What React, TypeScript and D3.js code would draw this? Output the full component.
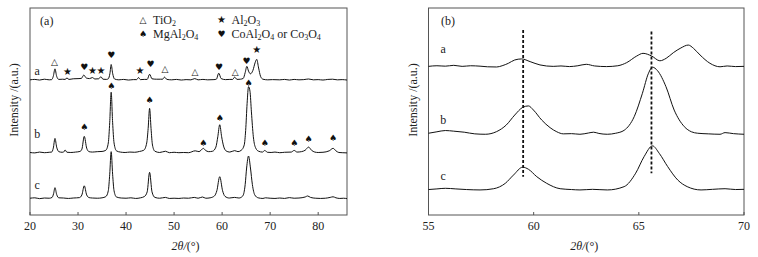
import React, { useRef, useEffect } from "react";
import * as d3 from "d3";

// ---- panel (a): wide scan, [2theta, intensity above own baseline]
const scanA_a = [
  [20, 0.3], [21, 0.5], [22, 0.2], [23, 0.6], [24, 0.3],
  [24.5, 0.4], [24.85, 2], [25.2, 5.6], [25.55, 2], [26, 0.5], [26.8, 0.6],
  [27.3, 0.5], [27.7, 1.2], [28.1, 0.5], [29, 0.8], [30.2, 0.9],
  [30.7, 1], [31.2, 2.6], [31.7, 1.2], [32.4, 0.9], [33, 1.4], [33.5, 0.7],
  [34.3, 0.8], [34.75, 1.8], [35.2, 0.6], [35.9, 0.5],
  [36.3, 0.8], [36.65, 3.5], [36.9, 7.7], [37.2, 3.5], [37.6, 0.7],
  [38.5, 0.3], [39.5, 0.5], [40.5, 0.2], [41.5, 0.4],
  [42.2, 0.4], [42.6, 1.4], [43, 0.4], [43.8, 0.5],
  [44.4, 0.5], [44.9, 3], [45.4, 0.8], [46.3, 0.6], [47.2, 0.6],
  [47.6, 0.6], [48, 1.6], [48.5, 0.5], [49.5, 0.3], [50.5, 0.5], [51.5, 0.2],
  [52.5, 0.4], [53.5, 0.3], [54.3, 0.9], [55, 0.3], [56, 0.5], [57, 0.3], [58.3, 0.4],
  [58.8, 0.6], [59.3, 3.5], [59.8, 0.9], [60.7, 0.4], [61.6, 0.5],
  [62.2, 0.5], [62.6, 1.6], [63.1, 0.5], [63.8, 0.6],
  [64.4, 1], [64.8, 3.8], [65.15, 6.8], [65.5, 4.5], [65.9, 3.2], [66.4, 4.8],
  [66.9, 8.8], [67.2, 10.2], [67.6, 6], [68, 2], [68.5, 0.6],
  [69.5, 0.3], [70.5, 0.4], [72, 0.3], [73, 0.5], [74, 0.2], [75, 0.5], [76, 0.3],
  [77, 0.4], [78, 0.7], [79, 0.3], [80, 0.4], [81, 0.2], [82, 0.5], [83, 0.6],
  [84, 0.3], [85, 0.4], [86, 0.2],
];
const scanA_b = [
  [20, 0.4], [21, 0.2], [22, 0.6], [23, 0.3], [24, 0.5],
  [24.5, 0.6], [24.85, 2.5], [25.2, 7.2], [25.55, 3], [26, 0.8], [26.7, 0.5],
  [27, 0.6], [27.3, 1.6], [27.7, 0.5], [28.5, 0.4], [29.5, 0.6], [30.4, 0.9],
  [30.8, 2], [31.3, 8.2], [31.8, 2.5], [32.3, 0.8], [33, 0.6], [34, 0.8], [35, 0.9], [35.8, 1.5],
  [36.3, 5], [36.6, 15], [36.9, 29.5], [37.2, 15], [37.5, 5], [38, 1.2],
  [38.8, 0.6], [39.8, 0.4], [40.8, 0.6], [41.8, 0.5], [42.8, 0.9], [43.7, 1.5],
  [44.3, 5], [44.6, 12], [44.9, 21.7], [45.2, 12], [45.5, 4], [46, 1],
  [47, 0.4], [48.2, 1], [49, 0.3], [50, 0.5], [51, 0.3], [52, 0.4], [53, 0.3],
  [54.4, 1.2], [55.2, 0.8], [55.6, 1.5], [56.1, 2.4], [56.5, 1.5], [57.2, 0.8],
  [58, 1], [58.7, 3], [59.1, 8], [59.5, 13.8], [59.9, 8], [60.3, 3.5], [60.8, 1.2],
  [61.6, 0.6], [62.6, 1.3], [63.3, 0.8], [64, 1.5], [64.6, 4],
  [64.9, 11], [65.2, 24], [65.5, 32.2], [65.8, 30], [66.1, 20], [66.5, 8], [67, 2.5], [67.6, 1],
  [68.4, 0.6], [68.9, 1.4], [69.4, 0.5], [70.2, 0.4], [71, 0.6], [72, 0.3], [73, 0.5],
  [74.4, 0.6], [75, 1.4], [75.6, 0.6], [76.5, 0.8], [77.3, 1.5], [78, 3], [78.6, 1.5],
  [79.3, 0.6], [80, 0.4], [81, 0.5], [82.3, 1.2], [83.1, 2.4], [83.7, 1.2], [84.3, 0.4],
  [85, 0.3], [86, 0.2],
];
const scanA_c = [
  [20, 0.4], [21, 0.6], [22, 0.2], [23, 0.5], [24, 0.4],
  [24.6, 0.8], [24.9, 2.5], [25.2, 5.5], [25.55, 2.2], [26, 0.6],
  [27, 0.5], [28, 0.3], [29, 0.5], [30.3, 0.7],
  [30.8, 2], [31.3, 6.4], [31.8, 2], [32.3, 0.7], [33, 0.5], [34, 0.4], [35, 0.6], [35.8, 1.2],
  [36.3, 4], [36.6, 12], [36.9, 22.9], [37.2, 12], [37.5, 4], [38, 1],
  [39, 0.5], [40, 0.4], [41, 0.6], [42, 0.3], [43, 0.6], [43.8, 1.2],
  [44.4, 3.5], [44.9, 12.9], [45.4, 3.5], [46, 0.8],
  [47, 0.4], [48.2, 0.8], [49, 0.3], [50, 0.4], [51, 0.3], [52, 0.5], [53, 0.4], [54.2, 0.8], [55, 0.4],
  [55.9, 1], [56.6, 0.4], [57.5, 0.6], [58.4, 1.5],
  [58.9, 4], [59.5, 10.8], [60.1, 4], [60.6, 1.3], [61.5, 0.5], [62.6, 0.8], [63.5, 0.5], [64.3, 1.5],
  [64.8, 7], [65.1, 15], [65.5, 20.8], [65.9, 15], [66.3, 7], [66.8, 2], [67.5, 0.6],
  [68.5, 0.3], [69, 0.6], [70, 0.4], [71, 0.3], [72, 0.5], [73, 0.3], [74, 0.7], [75, 0.4],
  [76, 0.5], [77.3, 1], [77.8, 1.5], [78.4, 0.8], [79.5, 0.4], [80.5, 0.3], [81.5, 0.4],
  [82.5, 0.8], [83.1, 1.1], [83.7, 0.6], [84.5, 0.3], [85.3, 0.4], [86, 0.2],
];
const offsetsA = [65, 29.8, 7.7];
const sampleNames = ["a", "b", "c"];
const nameLevelsA = [67.6, 37.4, 12.8];

// phase markers: [2theta, level, phase]
const marksA = [
  [25.1, 74.1, "tri"], [27.8, 69.2, "star"], [31.3, 71.6, "heart"], [33.0, 69.6, "star"],
  [34.8, 69.6, "star"], [36.9, 77.3, "heart"], [42.9, 69.7, "star"], [45.1, 72.8, "heart"],
  [48.1, 70.4, "tri"], [54.35, 69.2, "tri"], [59.35, 71.6, "heart"], [62.7, 69.2, "tri"],
  [65.1, 74.5, "heart"], [67.2, 80.0, "star"],
  [31.3, 42.4, "spade"], [36.9, 62.3, "spade"], [44.9, 55.6, "spade"], [56.1, 34.9, "spade"],
  [59.5, 46.7, "spade"], [65.5, 63.9, "spade"], [68.9, 34.6, "spade"], [75.0, 34.6, "spade"],
  [78.0, 36.7, "spade"], [83.1, 37.1, "spade"],
];
const legendPhases = ["tri", "star", "spade", "heart"];
const legendNames = ["TiO2", "Al2O3", "MgAl2O4", "CoAl2O4 or Co3O4"];
const glyphs = { tri: "\u25B3", star: "\u2605", spade: "\u2660", heart: "\u2665" };

// ---- panel (b): 55-70 detail
const scanB_a = [
  [55, 0.3], [55.4, 0.6], [55.8, 0.4], [56.2, 0.8], [56.6, 0.3], [57, 0.6], [57.45, 0.4],
  [57.8, 0.1], [58.24, 0], [58.5, 0.6], [58.8, 1.8], [59.1, 3.4], [59.43, 3.9], [59.83, 2.6],
  [60.3, 1], [60.93, 0.3], [61.3, 0.5], [61.7, 0.2], [62.1, 0.6], [62.5, 1.3], [62.9, 0.5],
  [63.47, 0.2], [64, 0.6], [64.42, 2.1], [64.9, 5.3], [65.2, 6.6], [65.61, 5.3], [66, 3],
  [66.3, 4.2], [66.64, 6.9], [67, 9.2], [67.35, 10.6], [67.6, 9], [67.91, 5.8], [68.38, 1.8],
  [68.86, 0.1], [69.2, 0.5], [69.6, 0.2], [70, 0.3],
];
const scanB_b = [
  [55, 0.5], [55.4, 1.2], [55.8, 1.8], [56.2, 1.5], [56.7, 1], [57.2, 0.2], [57.7, 0],
  [58.24, 1.3], [58.7, 4.5], [59.1, 9.3], [59.48, 13], [59.75, 13.7], [59.99, 11.7],
  [60.38, 6.9], [60.78, 3.2], [61.1, 1.2], [61.41, 0.2], [61.8, 0.3], [62.2, 0], [62.6, 0.6],
  [62.85, 1], [63.1, 0.4], [63.5, 0], [63.9, 0.5], [64.3, 1.9], [64.78, 8.5], [65.17, 19.8],
  [65.46, 29.5], [65.65, 32.4], [65.89, 30.7], [66.29, 23], [66.68, 11.7], [67.16, 3.7],
  [67.5, 1.2], [67.8, 0.5], [68.3, 0.2], [68.86, 0], [69.1, 0.8], [69.5, 0.3], [70, 0],
];
const scanB_c = [
  [55, 0.2], [55.4, 0.5], [55.8, 0.8], [56.3, 0.5], [56.8, 0.2], [57.45, 0], [58.1, 0.6],
  [58.65, 3.2], [59.04, 7.2], [59.48, 11], [59.75, 10], [60.15, 6.4], [60.62, 3.2],
  [61.26, 0.6], [61.8, 0.2], [62.2, 0], [62.8, 0.3], [63.5, 0], [64.3, 1.6], [64.85, 8.1],
  [65.25, 16.1], [65.65, 21.3], [65.97, 17.7], [66.37, 11.3], [66.85, 4.8], [67.3, 1.6],
  [67.96, 0], [68.5, 0.3], [69.1, 0.6], [69.6, 0.2], [70, 0.3],
];
const offsetsB = [71.5, 39, 12.1];
const nameLevelsB = [78.3, 44, 16.9];
// reference lines: [2theta, top level, bottom level]
const refLines = [[59.5, 89.4, 18.5], [65.6, 88.6, 20.2]];

const ticksA = [20, 30, 40, 50, 60, 70, 80];
const ticksB = [55, 60, 65, 70];

const SERIF = "'Times New Roman', 'Liberation Serif', serif";

// digits become subscripts
const addFormula = (sel, str) => {
  const parts = str.split(/(\d+)/).filter((p) => p !== "");
  let down = false;
  parts.forEach((p) => {
    if (/^\d+$/.test(p)) {
      sel.append("tspan").attr("dy", 2).attr("font-size", 8).text(p);
      down = true;
    } else {
      sel.append("tspan").attr("dy", down ? -2 : 0).text(p);
      down = false;
    }
  });
};

const drawPanel = (svg, cfg) => {
  const { left, right, top, bottom, domain, ticks, scans, offsets, nameLevels, nameAngle, title, titleAngle, yLabelX } = cfg;
  const x = d3.scaleLinear().domain(domain).range([left, right]);
  const y = d3.scaleLinear().domain([0, 100]).range([bottom, top]);
  const g = svg.append("g");

  g.append("rect")
    .attr("x", left).attr("y", top)
    .attr("width", right - left).attr("height", bottom - top)
    .attr("fill", "none").attr("stroke", "#555").attr("stroke-width", 1);

  // inward ticks on bottom axis
  g.selectAll("line.tick").data(ticks).enter().append("line")
    .attr("x1", (d) => x(d)).attr("x2", (d) => x(d))
    .attr("y1", bottom).attr("y2", bottom - 3)
    .attr("stroke", "#555");
  g.selectAll("text.tick").data(ticks).enter().append("text")
    .attr("x", (d) => x(d)).attr("y", bottom + 15)
    .attr("text-anchor", "middle")
    .attr("font-family", SERIF).attr("font-size", 12).attr("fill", "#222")
    .text((d) => d);

  const xl = g.append("text")
    .attr("x", (left + right) / 2 + (cfg.xLabelShift || 0)).attr("y", bottom + 35)
    .attr("text-anchor", "middle")
    .attr("font-family", SERIF).attr("font-size", 12).attr("fill", "#222");
  xl.append("tspan").attr("font-style", "italic").text("2\u03B8/");
  xl.append("tspan").text("(\u00B0)");

  g.append("text")
    .attr("transform", `translate(${yLabelX},100) rotate(-90)`)
    .attr("text-anchor", "middle").attr("dominant-baseline", "central")
    .attr("font-family", SERIF).attr("font-size", 12).attr("fill", "#222")
    .text("Intensity /(a.u.)");

  const line = d3.line().x((d) => x(d[0])).y((d) => y(d[1])).curve(d3.curveMonotoneX);
  scans.forEach((scan, i) => {
    g.append("path")
      .datum(scan.map((p) => [p[0], p[1] + offsets[i]]))
      .attr("d", line)
      .attr("fill", "none").attr("stroke", "#111").attr("stroke-width", 1)
      .attr("stroke-linejoin", "round");
    g.append("text")
      .attr("x", x(nameAngle)).attr("y", y(nameLevels[i]))
      .attr("text-anchor", "middle")
      .attr("font-family", SERIF).attr("font-size", 12).attr("fill", "#222")
      .text(sampleNames[i]);
  });

  g.append("text")
    .attr("x", x(titleAngle)).attr("y", y(92))
    .attr("font-family", SERIF).attr("font-size", 12).attr("fill", "#222")
    .text(title);

  return { g, x, y };
};

const App = () => {
  const ref = useRef(null);

  useEffect(() => {
    const svg = d3.select(ref.current);
    svg.selectAll("*").remove();

    const a = drawPanel(svg, {
      left: 30, right: 347, top: 8, bottom: 215, domain: [20, 86], ticks: ticksA,
      scans: [scanA_a, scanA_b, scanA_c], offsets: offsetsA, nameLevels: nameLevelsA,
      nameAngle: 21.5, title: "(a)", titleAngle: 22.1, yLabelX: 14, xLabelShift: -3,
    });

    a.g.selectAll("text.mark").data(marksA).enter().append("text")
      .attr("x", (d) => a.x(d[0])).attr("y", (d) => a.y(d[1]))
      .attr("text-anchor", "middle").attr("dominant-baseline", "central")
      .attr("font-family", "'DejaVu Sans', sans-serif")
      .attr("font-size", (d) => (d[2] === "star" ? 10 : 9))
      .attr("fill", "#111")
      .text((d) => glyphs[d[2]]);

    // legend, 2 x 2
    const lg = a.g.append("g").attr("transform", "translate(143,19.5)");
    legendPhases.forEach((ph, i) => {
      const cx = (i % 2) * 78.5;
      const cy = Math.floor(i / 2) * 14.5;
      lg.append("text")
        .attr("x", cx).attr("y", cy)
        .attr("text-anchor", "middle").attr("dominant-baseline", "central")
        .attr("font-family", "'DejaVu Sans', sans-serif")
        .attr("font-size", ph === "star" ? 10 : 9).attr("fill", "#111")
        .text(glyphs[ph]);
      const t = lg.append("text")
        .attr("x", cx + 10).attr("y", cy + 4)
        .attr("font-family", SERIF).attr("font-size", 12).attr("fill", "#222");
      addFormula(t, legendNames[i]);
    });

    const b = drawPanel(svg, {
      left: 428.5, right: 744, top: 8, bottom: 215, domain: [55, 70], ticks: ticksB,
      scans: [scanB_a, scanB_b, scanB_c], offsets: offsetsB, nameLevels: nameLevelsB,
      nameAngle: 55.7, title: "(b)", titleAngle: 55.6, yLabelX: 412.5, xLabelShift: -2,
    });

    b.g.selectAll("line.ref").data(refLines).enter().append("line")
      .attr("x1", (d) => b.x(d[0])).attr("x2", (d) => b.x(d[0]))
      .attr("y1", (d) => b.y(d[1])).attr("y2", (d) => b.y(d[2]))
      .attr("stroke", "#111").attr("stroke-width", 1.8)
      .attr("stroke-dasharray", "3,2");
  }, []);

  return (
    <>
      <style>{`body{margin:0}`}</style>
      <svg ref={ref} width={758} height={257} style={{ display: "block", background: "#fff" }} />
    </>
  );
};

export default App;
